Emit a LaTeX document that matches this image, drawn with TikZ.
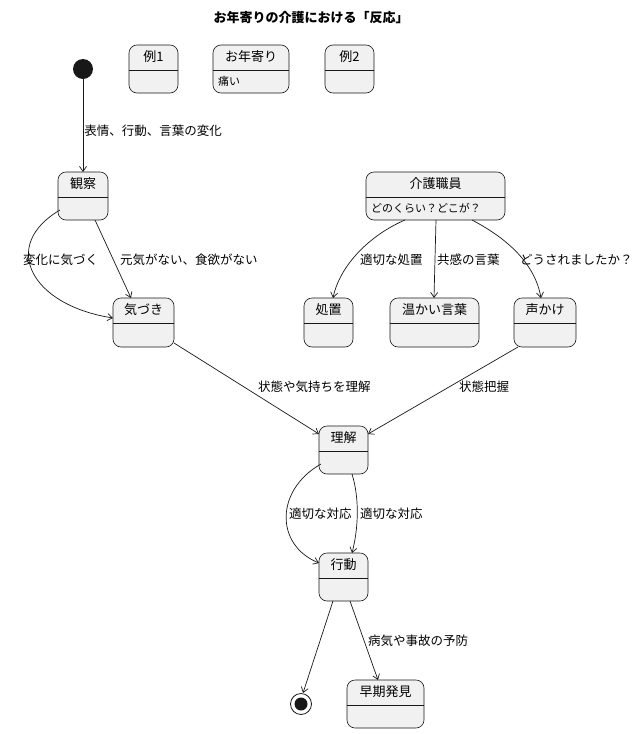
\documentclass[tikz,border=0pt]{standalone}
\usepackage{fontspec}
\setmainfont{Noto Sans CJK JP}
\usetikzlibrary{arrows.meta}
\definecolor{stfill}{HTML}{F1F1F1}
\definecolor{stline}{HTML}{181818}
\tikzset{
  lbl/.style={font=\fontsize{12.5}{14}\selectfont, inner sep=1pt},
  edge/.style={draw=stline, line width=0.7pt, -{Straight Barb[length=5pt,width=7pt]}},
}
% state box: name, x1, y1, x2, y2, title, body
\newcommand{\statebox}[7]{%
  \draw[stline, line width=0.6pt, fill=stfill, rounded corners=8pt] (#2,#3) rectangle (#4,#5);
  \draw[stline, line width=0.6pt] (#2,#3+25) -- (#4,#3+25);
  \node[font=\fontsize{13}{15}\selectfont] (#1) at ({(#2+#4)/2},#3+12) {#6};
  \node[anchor=west, font=\fontsize{11}{13}\selectfont, inner sep=0pt] at (#2+5,#3+36) {#7};
  \coordinate (#1-n) at ({(#2+#4)/2},#3);
}
\begin{document}
\begin{tikzpicture}[x=1pt,y=-1pt]
  \useasboundingbox (0,0) rectangle (642,734);

  \node[font=\bfseries\fontsize{13}{15}\selectfont] (title) at (311,18) {お年寄りの介護における「反応」};

  % states
  \statebox{ex1}{129}{45}{178}{93}{例1}{}
  \statebox{elder}{213}{45}{289}{93}{お年寄り}{痛い}
  \statebox{ex2}{325}{45}{374}{93}{例2}{}
  \statebox{obs}{58}{172}{108}{220}{観察}{}
  \statebox{staff}{366}{172}{505}{220}{介護職員}{どのくらい？どこが？}
  \statebox{aware}{113}{298}{174}{347}{気づき}{}
  \statebox{treat}{304}{298}{353}{347}{処置}{}
  \statebox{warm}{390}{298}{479}{347}{温かい言葉}{}
  \statebox{call}{514}{298}{576}{347}{声かけ}{}
  \statebox{under}{319}{426}{368}{474}{理解}{}
  \statebox{act}{319}{553}{368}{601}{行動}{}
  \statebox{early}{347}{680}{424}{728}{早期発見}{}

  % start and end
  \fill[stline] (83,69) circle (10);
  \coordinate (start) at (83,79);
  \draw[stline, line width=0.8pt, fill=white] (301,704) circle (10.5);
  \fill[stline] (301,704) circle (6.5);
  \coordinate (stop) at (303,693);

  % connectors
  \draw[edge] (start) -- (obs-n) node[lbl, pos=0.56, right] {表情、行動、言葉の変化};
  \draw[edge] (60,210) .. controls (0,245) and (30,305) .. (113,318);
  \node[lbl, anchor=west] at (22,260) {変化に気づく};
  \draw[edge] (95,220) -- (131,298);
  \node[lbl, anchor=west] at (119,260) {元気がない、食欲がない};

  \draw[edge] (405,220) .. controls (370,235) and (340,265) .. (333,298);
  \node[lbl, anchor=west] at (359,260) {適切な処置};
  \draw[edge] (436,220) -- (434,298);
  \node[lbl, anchor=west] at (436,260) {共感の言葉};
  \draw[edge] (472,220) .. controls (510,240) and (535,265) .. (541,298);
  \node[lbl, anchor=west] at (519,260) {どうされましたか？};

  \draw[edge] (174,343) -- (319,434);
  \node[lbl, anchor=west] at (257,387) {状態や気持ちを理解};
  \draw[edge] (518,347) -- (368,434);
  \node[lbl, anchor=west] at (458,387) {状態把握};

  \draw[edge] (321,464) .. controls (275,490) and (275,545) .. (319,563);
  \node[lbl, anchor=west] at (288,514) {適切な対応};
  \draw[edge] (352,474) .. controls (360,500) and (358,530) .. (352,553);
  \node[lbl, anchor=west] at (359,514) {適切な対応};

  \draw[edge] (333,601) -- (stop);
  \draw[edge] (350,601) -- (378,680);
  \node[lbl, anchor=west] at (367,641) {病気や事故の予防};
\end{tikzpicture}
\end{document}
